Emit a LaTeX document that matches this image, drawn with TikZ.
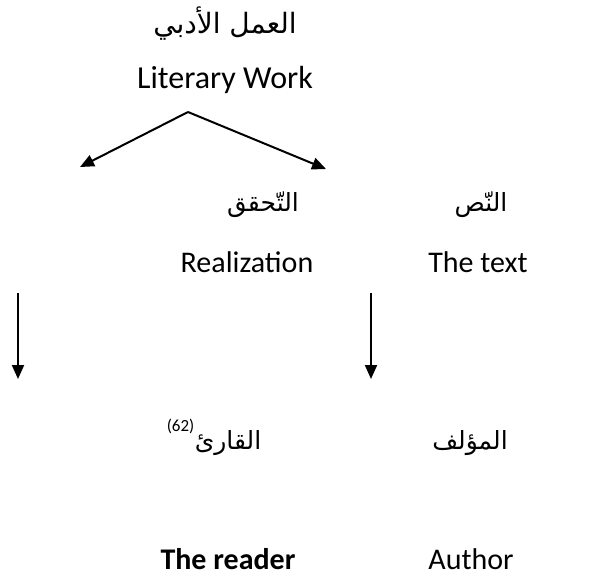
\documentclass[tikz,border=0pt]{standalone}
\usepackage{fontspec}
\setmainfont{Carlito}
\newfontfamily\arabicfont[Script=Arabic]{DejaVu Sans}
\TeXXeTstate=1
\usetikzlibrary{arrows.meta}
\tikzset{
  lat/.style={font=\fontsize{30}{34}\selectfont, inner sep=0pt},
  ara/.style={font=\fontsize{25}{30}\selectfont\arabicfont, inner sep=0pt},
  arr/.style={line width=2pt, -{Triangle[length=14pt,width=12pt]}}
}
\begin{document}
\begin{tikzpicture}[x=1pt,y=-1pt]
\useasboundingbox (0,0) rectangle (613,579);
% top
\node[ara, font=\fontsize{28}{32}\selectfont\arabicfont] (workA) at (225,24) {\beginR العمل الأدبي\endR};
\node[lat, font=\fontsize{32}{36}\selectfont] (workE) at (225,80) {Literary Work};
% second row
\node[ara] (realA) at (263,205) {\beginR التّحقق\endR};
\node[lat] (realE) at (247,262) {Realization};
\node[ara] (textA) at (481,205) {\beginR النّص\endR};
\node[lat] (textE) at (478,262) {The text};
% third row
\node[ara] (readA) at (228,443) {\beginR القارئ\endR};
\node[font=\fontsize{17}{19}\selectfont, inner sep=0pt, anchor=east, yshift=17pt] (note) at (readA.west) {(62)};
\node[ara] (authA) at (470,443) {\beginR المؤلف\endR};
\node[lat, font=\fontsize{30}{34}\selectfont\bfseries] (readE) at (228,559) {The reader};
\node[lat] (authE) at (471,559) {Author};
% connectors
\coordinate (apex) at (188,112);
\coordinate (leftEnd) at (80,167);
\coordinate (rightEnd) at (326,169);
\draw[arr] (apex) -- (leftEnd);
\draw[arr] (apex) -- (rightEnd);
\coordinate (v1s) at (18,293);
\coordinate (v1e) at (18,379);
\coordinate (v2s) at (371,293);
\coordinate (v2e) at (371,379);
\draw[arr] (v1s) -- (v1e);
\draw[arr] (v2s) -- (v2e);
\end{tikzpicture}
\end{document}
